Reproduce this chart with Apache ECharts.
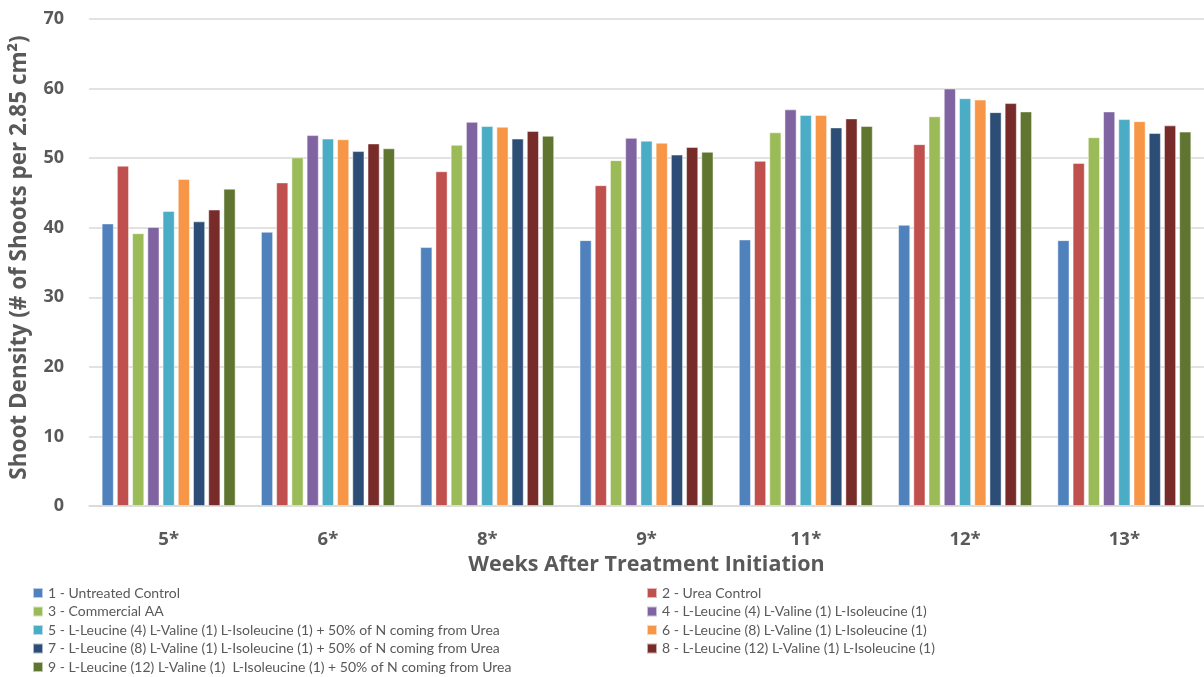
<!DOCTYPE html>
<html>
<head>
<meta charset="utf-8">
<script src="https://cdn.jsdelivr.net/npm/echarts@6/dist/echarts.min.js"></script>
<style>
  html, body { margin: 0; padding: 0; background: #fff; }
  #chart { width: 1204px; height: 677px; }
</style>
</head>
<body>
<div id="chart"></div>
<script>
// Weeks after treatment initiation (asterisk = significant difference)
const weeks = ['5*', '6*', '8*', '9*', '11*', '12*', '13*'];

// Treatment names
const treatments = [
  '1 - Untreated Control',
  '2 - Urea Control',
  '3 - Commercial AA',
  '4 - L-Leucine (4) L-Valine (1) L-Isoleucine (1)',
  '5 - L-Leucine (4) L-Valine (1) L-Isoleucine (1) + 50% of N coming from Urea',
  '6 - L-Leucine (8) L-Valine (1) L-Isoleucine (1)',
  '7 - L-Leucine (8) L-Valine (1) L-Isoleucine (1) + 50% of N coming from Urea',
  '8 - L-Leucine (12) L-Valine (1) L-Isoleucine (1)',
  '9 - L-Leucine (12) L-Valine (1)  L-Isoleucine (1) + 50% of N coming from Urea'
];

// Shoot density per treatment, one value per week
const t1 = [40.6, 39.4, 37.2, 38.2, 38.3, 40.4, 38.2];
const t2 = [48.9, 46.5, 48.1, 46.1, 49.6, 52.0, 49.3];
const t3 = [39.2, 50.1, 51.9, 49.7, 53.7, 56.0, 53.0];
const t4 = [40.1, 53.3, 55.2, 52.9, 57.0, 60.0, 56.7];
const t5 = [42.4, 52.8, 54.6, 52.5, 56.2, 58.6, 55.6];
const t6 = [47.0, 52.7, 54.5, 52.2, 56.2, 58.4, 55.3];
const t7 = [40.9, 51.0, 52.8, 50.5, 54.4, 56.6, 53.6];
const t8 = [42.6, 52.1, 53.9, 51.6, 55.7, 57.9, 54.7];
const t9 = [45.6, 51.4, 53.2, 50.9, 54.6, 56.7, 53.8];
const seriesValues = [t1, t2, t3, t4, t5, t6, t7, t8, t9];

const colors = ['#4F81BD', '#C0504D', '#9BBB59', '#8064A2', '#4BACC6',
                '#F79646', '#2C4D75', '#772C2A', '#5F7530'];

const legendFont = 'Lato, "Open Sans", sans-serif';
const axisFont = '"Open Sans", sans-serif';
const textGray = '#595959';

const chart = echarts.init(document.getElementById('chart'), null, { renderer: 'canvas' });

const legendText = { color: textGray, fontSize: 14, fontFamily: legendFont };

chart.setOption({
  animation: false,
  color: colors,
  grid: { left: 88, right: 0, top: 19, bottom: 171, containLabel: false },
  legend: [
    {
      data: treatments.filter((_, i) => i % 2 === 0),
      orient: 'vertical', left: 32, top: 586,
      itemWidth: 10, itemHeight: 10, itemGap: 4.5,
      icon: 'rect', textStyle: legendText, padding: 0
    },
    {
      data: treatments.filter((_, i) => i % 2 === 1),
      orient: 'vertical', left: 646, top: 586,
      itemWidth: 10, itemHeight: 10, itemGap: 4.5,
      icon: 'rect', textStyle: legendText, padding: 0
    }
  ],
  xAxis: {
    type: 'category',
    data: weeks,
    name: 'Weeks After Treatment Initiation',
    nameLocation: 'middle',
    nameGap: 45,
    nameTextStyle: { color: textGray, fontSize: 21.5, fontWeight: 'bold', fontFamily: axisFont },
    axisLine: { show: true, lineStyle: { color: '#d9d9d9', width: 1.5 } },
    axisTick: { show: false },
    axisLabel: { color: textGray, fontSize: 18.5, fontWeight: 'bold', fontFamily: axisFont, margin: 24 }
  },
  yAxis: {
    type: 'value',
    min: 0, max: 70, interval: 10,
    name: 'Shoot Density (# of Shoots per 2.85 cm²)',
    nameLocation: 'middle',
    nameGap: 58,
    nameRotate: 90,
    nameTextStyle: { color: textGray, fontSize: 22.5, fontWeight: 'bold', fontFamily: axisFont, padding: [0, 0, 0, 10] },
    axisLine: { show: false },
    axisTick: { show: false },
    axisLabel: { color: textGray, fontSize: 18, fontWeight: 'bold', fontFamily: axisFont, margin: 25 },
    splitLine: { lineStyle: { color: '#d9d9d9', width: 1.5 } }
  },
  series: seriesValues.map((vals, i) => ({
    name: treatments[i],
    type: 'bar',
    data: vals,
    barGap: '27%',
    barCategoryGap: '16%',
    itemStyle: { color: colors[i], borderColor: 'rgba(255,255,255,0.6)', borderWidth: 0.8 }
  }))
});
</script>
</body>
</html>
